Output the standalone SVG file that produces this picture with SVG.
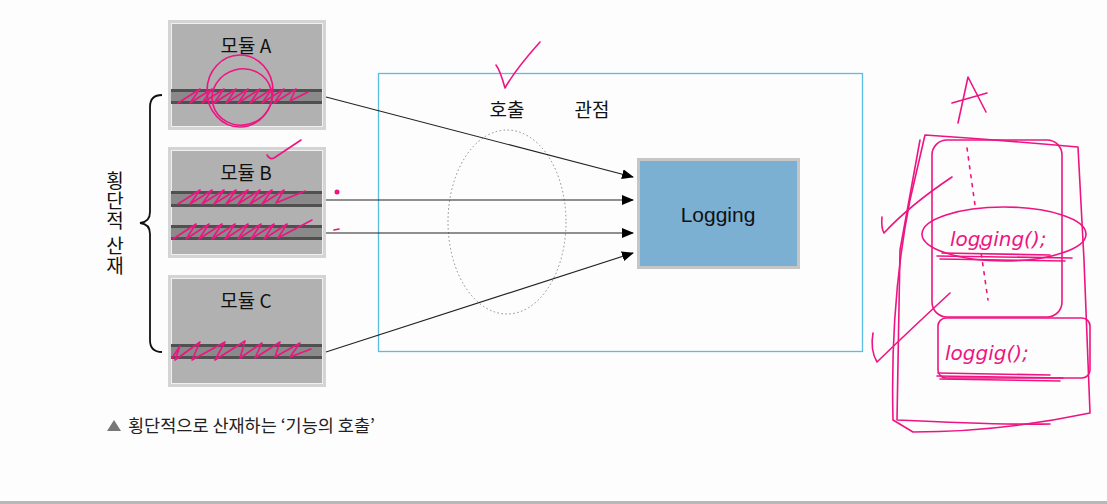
<svg xmlns="http://www.w3.org/2000/svg" width="1107" height="504" viewBox="0 0 1107 504">
<style>
.mod-outer{fill:#d4d4d4}
.mod-inner{fill:#b1b1b1;stroke:#f0f0f0;stroke-width:1}
.bar{fill:#8a8a8a}
.barline{fill:#505050}
.lbl{font-family:"Noto Sans CJK KR","Liberation Sans",sans-serif;font-size:19px;fill:#111}
.conn{stroke:#222;stroke-width:1.1;fill:none}
.pink{stroke:#ee1482;stroke-width:1.6;fill:none;stroke-linecap:round;stroke-linejoin:round}
.hand{font-family:"DejaVu Sans","Liberation Sans",sans-serif;fill:#ee1482;font-style:italic}
</style>
<defs>
<marker id="arr" markerWidth="12" markerHeight="10" refX="11" refY="5" orient="auto" markerUnits="userSpaceOnUse">
<path d="M0,0 L12,5 L0,10 Z" fill="#000"/>
</marker>
</defs>
<rect width="1107" height="504" fill="#fdfdfd"/>
<rect x="0" y="501" width="1107" height="3" fill="#b8b8b8"/>

<g id="container">
<rect x="378.5" y="73.5" width="484" height="278" fill="none" stroke="#5bbde0" stroke-width="1.3"/>
<text class="lbl" x="507" y="117" text-anchor="middle">호출</text>
<text class="lbl" x="592" y="117" text-anchor="middle">관점</text>
<ellipse cx="507" cy="222" rx="59" ry="92" fill="none" stroke="#888" stroke-width="1" stroke-dasharray="1.5,2.5"/>
</g>

<g id="moduleA">
<rect class="mod-outer" x="168" y="20" width="158" height="110"/>
<rect class="mod-inner" x="171.5" y="23.5" width="151" height="103"/>
<text class="lbl" x="246" y="53" text-anchor="middle">모듈 A</text>
<rect class="bar" x="171" y="89" width="151" height="15"/>
<rect class="barline" x="171" y="89" width="151" height="3"/>
<rect class="barline" x="171" y="101" width="151" height="3"/>
</g>

<g id="moduleB">
<rect class="mod-outer" x="168" y="147" width="158" height="111"/>
<rect class="mod-inner" x="171.5" y="150.5" width="151" height="104"/>
<text class="lbl" x="246" y="180" text-anchor="middle">모듈 B</text>
<rect class="bar" x="171" y="191" width="151" height="16"/>
<rect class="barline" x="171" y="191" width="151" height="3"/>
<rect class="barline" x="171" y="204" width="151" height="3"/>
<rect class="bar" x="171" y="225" width="151" height="15"/>
<rect class="barline" x="171" y="225" width="151" height="3"/>
<rect class="barline" x="171" y="237" width="151" height="3"/>
</g>

<g id="moduleC">
<rect class="mod-outer" x="168" y="275" width="158" height="112"/>
<rect class="mod-inner" x="171.5" y="278.5" width="151" height="105"/>
<text class="lbl" x="246" y="308" text-anchor="middle">모듈 C</text>
<rect class="bar" x="171" y="344" width="151" height="15"/>
<rect class="barline" x="171" y="344" width="151" height="3"/>
<rect class="barline" x="171" y="356" width="151" height="3"/>
</g>

<g id="logging">
<rect x="637" y="158" width="163" height="111" fill="#c6c6c6"/>
<rect x="640" y="161" width="157" height="105" fill="#7bb0d3"/>
<text x="718" y="222" text-anchor="middle" font-family="Liberation Sans, sans-serif" font-size="21" fill="#111">Logging</text>
</g>

<g id="brace">
<path d="M162,95 Q150,95 150,107 L150,212 Q150,222 140,223 Q150,224 150,234 L150,340 Q150,352 162,352" fill="none" stroke="#111" stroke-width="1.8"/>
<text class="lbl" x="115" y="171" writing-mode="vertical-rl" font-size="19" letter-spacing="1">횡단적 산재</text>
</g>

<g id="connectors">
<line class="conn" x1="326" y1="97" x2="633" y2="177" marker-end="url(#arr)"/>
<line class="conn" x1="326" y1="200" x2="633" y2="200" marker-end="url(#arr)"/>
<line class="conn" x1="326" y1="233" x2="633" y2="233" marker-end="url(#arr)"/>
<line class="conn" x1="326" y1="352" x2="633" y2="253" marker-end="url(#arr)"/>
</g>

<g id="caption">
<path d="M107,431 L114,420 L121,431 Z" fill="#777"/>
<text x="128" y="432" font-family="Noto Sans CJK KR, Liberation Sans, sans-serif" font-size="17.5" fill="#222">횡단적으로 산재하는 ‘기능의 호출’</text>
</g>

<g id="annotations">
<ellipse class="pink" cx="240" cy="91" rx="33" ry="36"/>
<ellipse class="pink" cx="242" cy="97" rx="30" ry="28" transform="rotate(-15 242 97)"/>
<path class="pink" d="M178,103 L200,89 L190,103 L212,89 L202,103 L224,89 L214,103 L236,89 L226,103 L248,89 L238,103 L260,89 L250,103 L272,89 L262,103 L284,89 L274,103 L296,89 L290,101 L308,92"/>
<path class="pink" d="M178,204 L200,190 L190,204 L212,190 L202,204 L224,190 L214,204 L236,190 L226,204 L248,190 L238,204 L260,190 L250,204 L272,190 L262,204 L284,190 L276,203 L305,191"/>
<path class="pink" d="M173,239 L196,224 L186,239 L209,224 L199,239 L222,224 L212,239 L235,224 L225,239 L248,224 L238,239 L261,224 L251,239 L274,224 L264,239 L287,224 L278,238 L312,220"/>
<path class="pink" d="M172,358 L180,346 L175,360 L200,342 L192,360 L225,342 L215,360 L245,341 L240,358 L262,343 L255,358 L280,342 L275,357 L300,343 L290,357 L311,349"/>
<path class="pink" d="M267,155 Q270,160 274,158 L301,140"/>
<path class="pink" d="M496,65 Q500,70 505,88 Q515,70 540,42"/>
<circle cx="337" cy="192" r="2.5" fill="#ee1482"/>
<path class="pink" d="M334,230 L339,229"/>
<path class="pink" d="M958,123 L968,77 L986,112 M952,103 L987,93"/>
<path class="pink" d="M925,135 Q1000,140 1078,147 L1084,260 L1090,413 Q1000,432 913,432 L893,420 Q890,300 910,200 Z"/>
<path class="pink" d="M920,140 L900,250 L897,420 Q1000,425 1050,424"/>
<rect class="pink" x="932" y="140" width="130" height="177" rx="15"/>
<ellipse class="pink" cx="1004" cy="234" rx="82" ry="27"/>
<rect class="pink" x="938" y="318" width="152" height="60" rx="8"/>
<path class="pink" d="M967,148 L975,205 M980,245 L988,300" stroke-dasharray="3,6"/>
<path class="pink" d="M937,256 L1072,258 M940,259 L1065,261 M942,253 L1050,255" stroke-width="2"/>
<path class="pink" d="M937,376 L1063,378 M940,379 L1060,381 M938,373 L1050,375" stroke-width="2"/>
<path class="pink" d="M882,217 Q881,228 884,233 Q910,205 952,177"/>
<path class="pink" d="M873,333 Q870,350 877,362 Q910,330 950,293"/>
<text class="hand" x="950" y="246" font-size="20">logging();</text>
<text class="hand" x="945" y="360" font-size="20">loggig();</text>
</g>
</svg>
